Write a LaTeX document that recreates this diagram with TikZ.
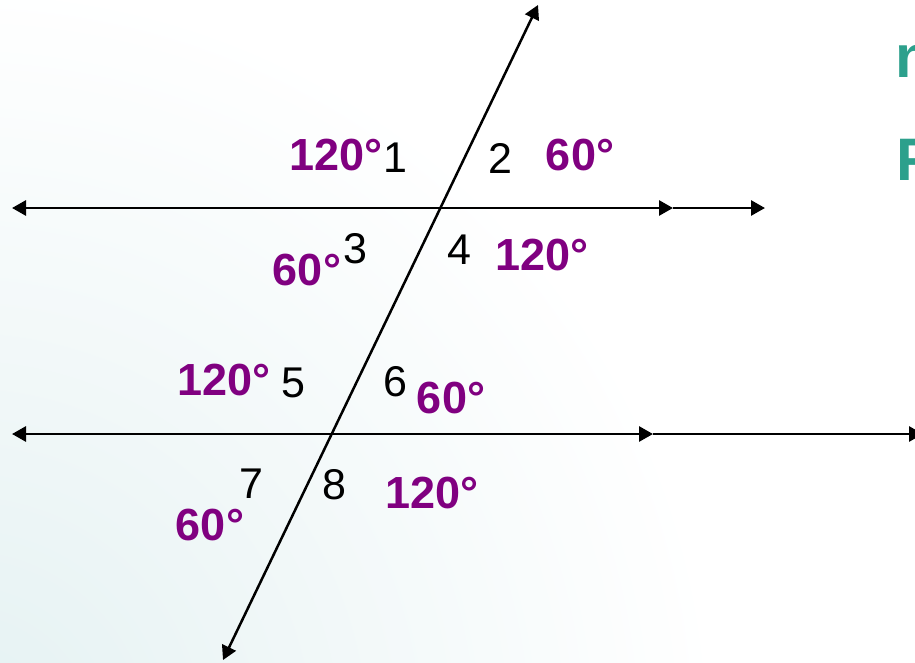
\documentclass[tikz,border=0pt]{standalone}
\usepackage{fontspec}
\setmainfont{Liberation Sans}
\usetikzlibrary{arrows.meta}
\definecolor{angpurple}{RGB}{128,0,128}
\definecolor{tealtxt}{RGB}{44,160,140}
\definecolor{bgteal}{RGB}{228,241,242}
\begin{document}
\begin{tikzpicture}[x=1pt,y=-1pt,
  ln/.style={line width=2.8pt},
  num/.style={inner sep=0pt, font=\fontsize{43}{43}\selectfont},
  ang/.style={inner sep=0pt, text=angpurple, font=\fontsize{45}{45}\selectfont\bfseries},
  ttl/.style={inner sep=0pt, anchor=base west, text=tealtxt, font=\fontsize{60}{60}\selectfont\bfseries}]
\useasboundingbox (0,0) rectangle (915,662);
\begin{scope}
  \clip (0,0) rectangle (915,662);
  \fill[white] (0,0) rectangle (915,662);
  \shade[inner color=bgteal, outer color=white] (-40,740) circle (760);
  % line coordinates
  \coordinate (L1a) at (12,208);
  \coordinate (L1m) at (673,208);
  \coordinate (L1b) at (765,208);
  \coordinate (L2a) at (12,434);
  \coordinate (L2m) at (653,434);
  \coordinate (L2b) at (923,434);
  \coordinate (T1) at (538,5);
  \coordinate (T2) at (223,660);
  \draw[ln, {Triangle[length=14pt,width=15pt]}-{Triangle[length=14pt,width=15pt]}] (L1a) -- (L1m);
  \draw[ln, -{Triangle[length=14pt,width=15pt]}] (L1m) -- (L1b);
  \draw[ln, {Triangle[length=14pt,width=15pt]}-{Triangle[length=14pt,width=15pt]}] (L2a) -- (L2m);
  \draw[ln, -{Triangle[length=14pt,width=15pt]}] (L2m) -- (L2b);
  \draw[line width=2.5pt, {Triangle[length=14pt,width=15pt]}-{Triangle[length=14pt,width=15pt]}] (T2) -- (T1);
  % numbers
  \node[num] (n1) at (395,158) {1};
  \node[num] (n2) at (500,158) {2};
  \node[num] (n3) at (355,249) {3};
  \node[num] (n4) at (459,250) {4};
  \node[num] (n5) at (293,383) {5};
  \node[num] (n6) at (395,382) {6};
  \node[num] (n7) at (251,484) {7};
  \node[num] (n8) at (334,485) {8};
  % angles
  \node[ang] (a1) at (336,155) {120°};
  \node[ang] (a2) at (580,155) {60°};
  \node[ang] (a3) at (307,270) {60°};
  \node[ang] (a4) at (542,255) {120°};
  \node[ang] (a5) at (224,380) {120°};
  \node[ang] (a6) at (451,398) {60°};
  \node[ang] (a7) at (432,493) {120°};
  \node[ang] (a8) at (210,525) {60°};
  % cut-off title text
  \node[ttl] (tn) at (895,77) {n};
  \node[ttl] (tF) at (896,180) {F};
\end{scope}
\end{tikzpicture}
\end{document}
